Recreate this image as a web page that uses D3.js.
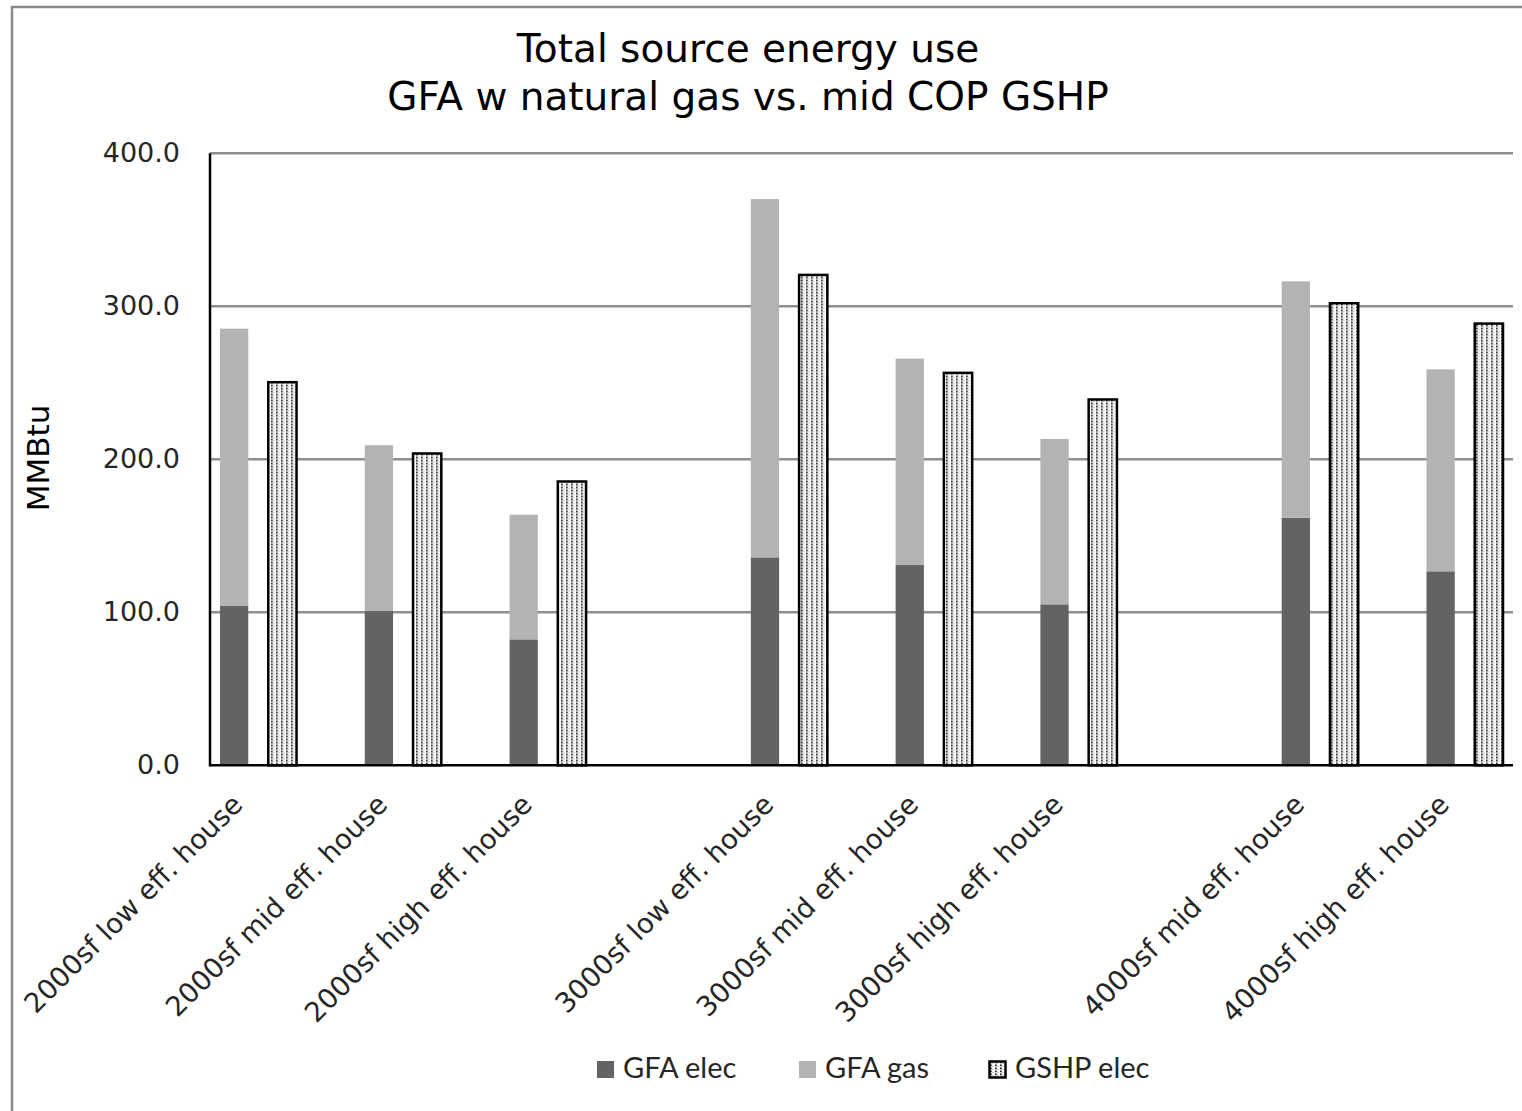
<!DOCTYPE html>
<html>
<head>
<meta charset="utf-8">
<script src="https://cdn.jsdelivr.net/npm/d3@7"></script>
<style>
  html, body { margin: 0; padding: 0; background: #fff; }
  svg { display: block; }
</style>
</head>
<body>
<svg id="chart" width="1522" height="1111"></svg>
<script>
// House cases, grouped by floor area
const groups = [
  ["2000sf low eff. house", "2000sf mid eff. house", "2000sf high eff. house"],
  ["3000sf low eff. house", "3000sf mid eff. house", "3000sf high eff. house"],
  ["4000sf mid eff. house", "4000sf high eff. house"]
];
const categories = groups.flat();

// Source energy (MMBtu)
const gfaElec  = [104.1, 100.8, 82.3, 135.9, 130.9, 105.2, 161.8, 126.8];
const gfaGas   = [181.3, 108.4, 81.5, 234.2, 134.9, 108.1, 154.5, 132.0];
const gshpElec = [250.4, 203.8, 185.5, 320.5, 256.5, 239.1, 302.0, 288.7];

const yTicks = [0, 100, 200, 300, 400];
const seriesNames = ["GFA elec", "GFA gas", "GSHP elec"];
const titleLines = ["Total source energy use", "GFA w natural gas vs. mid COP GSHP"];
const yTitle = "MMBtu";

const colElec = "#636363";
const colGas = "#b3b3b3";

const svg = d3.select("#chart");
const W = 1522, H = 1111;
const margin = { left: 210, right: 9, top: 153.3, bottom: 345.7 };
const plotW = W - margin.left - margin.right;
const plotH = H - margin.top - margin.bottom;

// Outer chart frame
svg.append("rect")
  .attr("x", 12).attr("y", 7)
  .attr("width", W + 40).attr("height", H + 40)
  .attr("fill", "#fff").attr("stroke", "#8a8a8a").attr("stroke-width", 2.5);

// Dotted fill for the GSHP bars
const defs = svg.append("defs");
const pat = defs.append("pattern")
  .attr("id", "dots").attr("patternUnits", "userSpaceOnUse")
  .attr("width", 5).attr("height", 3);
pat.append("rect").attr("width", 5).attr("height", 3).attr("fill", "#fff");
pat.append("rect").attr("x", 1).attr("y", 0.5).attr("width", 1.7).attr("height", 1.7).attr("fill", "#1a1a1a");
pat.append("rect").attr("x", 3.4).attr("y", 1.8).attr("width", 1).attr("height", 1).attr("fill", "#8a8a8a");

// Slot layout: GFA bar, GSHP bar, one blank between houses, three blanks between groups
const slots = [];
groups.forEach((g, gi) => {
  g.forEach((house, hi) => {
    slots.push(house + "|gfa", house + "|gshp");
    if (hi < g.length - 1) slots.push("gap-" + house);
  });
  if (gi < groups.length - 1) slots.push("sep-a-" + gi, "sep-b-" + gi, "sep-c-" + gi);
});

const x = d3.scaleBand().domain(slots).range([0, plotW]).paddingInner(0.414).paddingOuter(0.207);
const y = d3.scaleLinear().domain([0, 400]).range([plotH, 0]);

const g = svg.append("g").attr("transform", `translate(${margin.left},${margin.top})`);

// Gridlines
g.append("g").selectAll("line").data(yTicks.filter(t => t > 0)).join("line")
  .attr("x1", 0).attr("x2", plotW)
  .attr("y1", d => y(d)).attr("y2", d => y(d))
  .attr("stroke", "#8f8f8f").attr("stroke-width", 2.5);

const rows = categories.map((c, i) => ({ c, elec: gfaElec[i], gas: gfaGas[i], gshp: gshpElec[i] }));
const stack = d3.stack().keys(["elec", "gas"])(rows);
const stackColors = [colElec, colGas];

stack.forEach((layer, li) => {
  g.append("g").selectAll("rect").data(layer).join("rect")
    .attr("x", d => x(d.data.c + "|gfa"))
    .attr("width", x.bandwidth())
    .attr("y", d => y(d[1]))
    .attr("height", d => y(d[0]) - y(d[1]))
    .attr("fill", stackColors[li]);
});

g.append("g").selectAll("rect").data(rows).join("rect")
  .attr("x", d => x(d.c + "|gshp"))
  .attr("width", x.bandwidth())
  .attr("y", d => y(d.gshp))
  .attr("height", d => y(0) - y(d.gshp))
  .attr("fill", "url(#dots)")
  .attr("stroke", "#000").attr("stroke-width", 2.5);

// Y axis
const yAxis = g.append("g").call(
  d3.axisLeft(y).tickValues(yTicks).tickFormat(d3.format(".1f")).tickSize(0).tickPadding(30)
);
yAxis.select(".domain").remove();
yAxis.selectAll("text")
  .attr("font-family", "DejaVu Sans").attr("font-size", 27).attr("fill", "#262626");

g.append("line").attr("x1", 0).attr("x2", 0).attr("y1", 0).attr("y2", plotH + 1)
  .attr("stroke", "#000").attr("stroke-width", 2.5);
g.append("line").attr("x1", -1).attr("x2", plotW).attr("y1", plotH).attr("y2", plotH)
  .attr("stroke", "#000").attr("stroke-width", 2.5);

// Category labels, rotated
g.append("g").selectAll("text").data(categories).join("text")
  .attr("transform", c => {
    const cx = (x(c + "|gfa") + x(c + "|gshp") + x.bandwidth()) / 2;
    return `translate(${cx - 14},${plotH + 41}) rotate(-45)`;
  })
  .attr("text-anchor", "end")
  .attr("font-family", "DejaVu Sans").attr("font-size", 27.5).attr("fill", "#262626")
  .text(c => c);

// Y axis title
svg.append("text")
  .attr("transform", `translate(49,458) rotate(-90)`)
  .attr("text-anchor", "middle")
  .attr("font-family", "DejaVu Sans").attr("font-size", 31).attr("fill", "#000")
  .text(yTitle);

// Title
svg.append("g").selectAll("text").data(titleLines).join("text")
  .attr("x", 748).attr("y", (d, i) => 62 + i * 48)
  .attr("text-anchor", "middle")
  .attr("font-family", "DejaVu Sans").attr("font-size", 39).attr("fill", "#000")
  .text(d => d);

// Legend
const legendX = [597, 799, 989];
const lg = svg.append("g");
seriesNames.forEach((name, i) => {
  const item = lg.append("g").attr("transform", `translate(${legendX[i]},1061)`);
  item.append("rect")
    .attr("width", i === 2 ? 16 : 17).attr("height", i === 2 ? 16 : 17)
    .attr("x", i === 2 ? 0.5 : 0).attr("y", i === 2 ? 0.5 : 0)
    .attr("fill", i === 0 ? colElec : i === 1 ? colGas : "url(#dots)")
    .attr("stroke", i === 2 ? "#000" : "none").attr("stroke-width", 2.5);
  item.append("text")
    .attr("x", 26).attr("y", 17)
    .attr("font-family", "Lato").attr("font-size", 29).attr("fill", "#262626")
    .text(name);
});
</script>
</body>
</html>
